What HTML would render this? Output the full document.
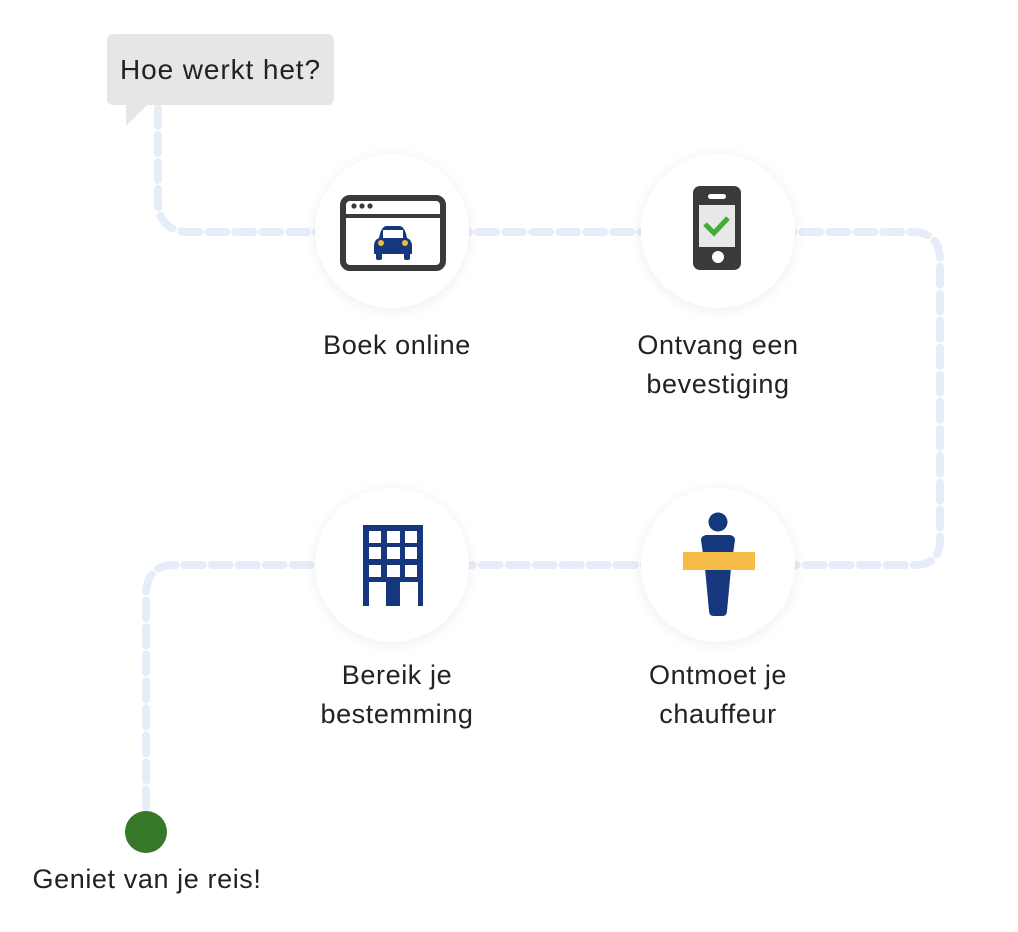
<!DOCTYPE html>
<html><head><meta charset="utf-8"><style>
body{margin:0;width:1018px;height:932px;background:#fff;position:relative;font-family:"Liberation Sans",sans-serif;overflow:hidden}
.lbl{position:absolute;color:#222;font-size:27px;letter-spacing:0.6px;line-height:39px;text-align:center;width:300px}
.circ{position:absolute;width:154px;height:154px;border-radius:50%;background:#fff;box-shadow:0 2px 14px rgba(0,0,0,0.07)}
</style></head><body>
<svg width="1018" height="932" style="position:absolute;left:0;top:0">
<path d="M158 108 V200 Q158 232 190 232 H912 Q940 232 940 260 V540 Q940 565 915 565 H175 Q146 565 146 595 V815" fill="none" stroke="#e6edf8" stroke-width="8" stroke-dasharray="18 9" stroke-linecap="round"/>
</svg>
<div style="position:absolute;left:107px;top:34px;width:227px;height:71px;background:#e6e6e6;border-radius:6px"></div>
<svg width="40" height="30" style="position:absolute;left:126px;top:104px"><polygon points="0,0 22,0 0,22" fill="#e6e6e6"/></svg>
<div style="position:absolute;left:107px;top:34px;width:227px;height:71px;line-height:71px;text-align:center;font-size:28px;letter-spacing:0.9px;color:#222">Hoe werkt het?</div>

<div class="circ" style="left:315px;top:154px"></div>
<div class="circ" style="left:641px;top:154px"></div>
<div class="circ" style="left:315px;top:488px"></div>
<div class="circ" style="left:641px;top:488px"></div>

<svg width="1018" height="932" style="position:absolute;left:0;top:0">
<rect x="343" y="198" width="100" height="70" rx="7" fill="none" stroke="#3a3a3a" stroke-width="6"/>
<line x1="343" y1="216" x2="443" y2="216" stroke="#3a3a3a" stroke-width="4"/>
<circle cx="354" cy="206" r="2.6" fill="#3a3a3a"/><circle cx="362" cy="206" r="2.6" fill="#3a3a3a"/><circle cx="370" cy="206" r="2.6" fill="#3a3a3a"/>
<path d="M379 238 Q381 227 386 226 H400 Q405 227 407 238 Q412 240 412 246 V254 H374 V246 Q374 240 379 238Z" fill="#14377d"/>
<rect x="376" y="252" width="6" height="8" rx="2" fill="#14377d"/><rect x="404" y="252" width="6" height="8" rx="2" fill="#14377d"/>
<rect x="383" y="230" width="20" height="8" fill="#fff"/>
<circle cx="381" cy="243" r="3" fill="#f2bb3f"/><circle cx="405" cy="243" r="3" fill="#f2bb3f"/>
<rect x="693" y="186" width="48" height="84" rx="7" fill="#3a3a3a"/>
<rect x="699" y="205" width="36" height="42" fill="#e8e8e8"/>
<rect x="708" y="194" width="18" height="5" rx="2.5" fill="#fff"/>
<circle cx="718" cy="257" r="6" fill="#fff"/>
<path d="M705 224 L714 233 L728 218" fill="none" stroke="#3fae3a" stroke-width="5"/>
<circle cx="718" cy="522" r="9.5" fill="#14377d"/>
<path d="M701 540 Q701 536 706 535 H730 Q735 536 735 540 L731 568 L727 611 Q727 616 722 616 H714 Q709 616 709 611 L705 568Z" fill="#14377d"/>
<rect x="683" y="552" width="72" height="18" fill="#f5bd47"/>
<rect x="363" y="525" width="60" height="81" fill="#14377d"/>
<g fill="#fff">
<rect x="369" y="531" width="12" height="12"/><rect x="387" y="531" width="13" height="12"/><rect x="405" y="531" width="12" height="12"/>
<rect x="369" y="547" width="12" height="12"/><rect x="387" y="547" width="13" height="12"/><rect x="405" y="547" width="12" height="12"/>
<rect x="369" y="565" width="12" height="12"/><rect x="387" y="565" width="13" height="12"/><rect x="405" y="565" width="12" height="12"/>
<rect x="369" y="582" width="17" height="24"/><rect x="400" y="582" width="18" height="24"/>
</g>
<circle cx="146" cy="832" r="21" fill="#367728"/>
</svg>

<div class="lbl" style="left:247px;top:326px">Boek online</div>
<div class="lbl" style="left:568px;top:326px">Ontvang een<br>bevestiging</div>
<div class="lbl" style="left:247px;top:656px">Bereik je<br>bestemming</div>
<div class="lbl" style="left:568px;top:656px">Ontmoet je<br>chauffeur</div>
<div class="lbl" style="left:-3px;top:860px">Geniet van je reis!</div>
</body></html>
